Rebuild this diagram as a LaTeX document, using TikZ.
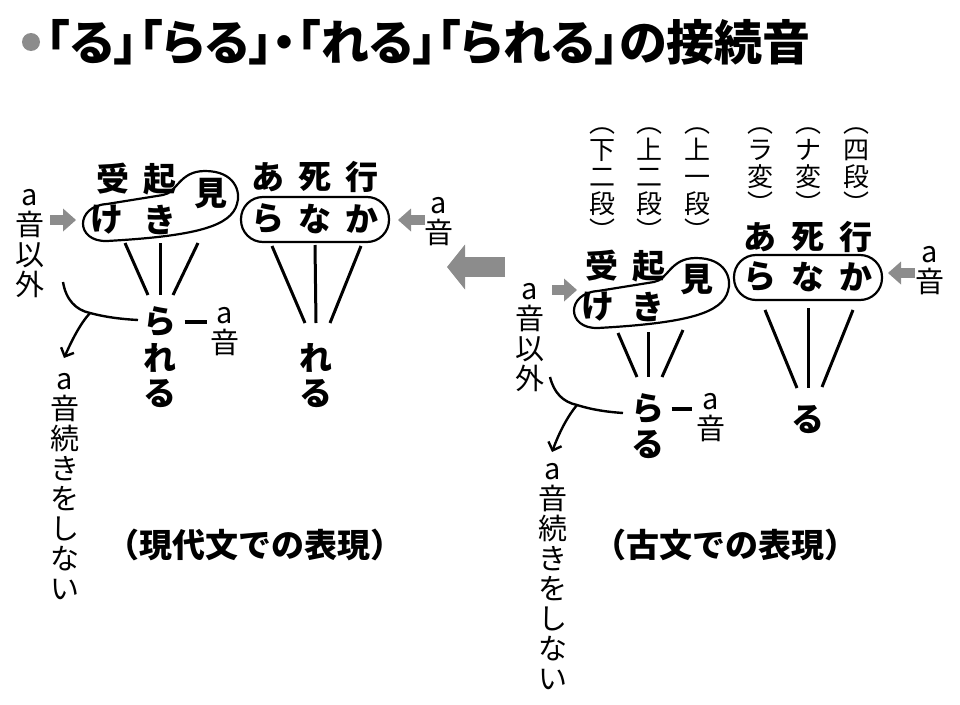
\documentclass[tikz,border=0pt]{standalone}
\usepackage{fontspec}
\usepackage{tikz}
\usetikzlibrary{arrows.meta,calc,positioning}
\newfontfamily\jpfont{Noto Sans CJK JP}
\newfontfamily\jptitle[RawFeature=+palt]{Noto Sans CJK JP}
\definecolor{arrowgray}{RGB}{140,140,140}
\tikzstyle{kana} = [font=\jpfont\bfseries\fontsize{33}{33}\selectfont, inner sep=0pt]
\tikzstyle{tate} = [font=\jpfont\fontsize{29}{30}\selectfont, inner sep=0pt, align=center, anchor=north]
\tikzstyle{katsuyo} = [font=\jpfont\fontsize{26}{27}\selectfont, inner sep=0pt, align=center, anchor=north]
\tikzstyle{caption} = [font=\jpfont\bfseries\fontsize{33}{33}\selectfont, inner sep=0pt]
\tikzstyle{fan} = [draw, line width=3pt]
\tikzstyle{loopline} = [draw, line width=2.2pt]
\tikzstyle{curveline} = [draw, line width=2.4pt]
\tikzstyle{dashline} = [draw, line width=3.5pt]
\tikzstyle{grayarrow} = [draw=arrowgray, line width=10pt, -{Triangle[length=13pt,width=23pt,line width=0pt]}]
\tikzstyle{bigarrow} = [draw=arrowgray, line width=20pt, -{Triangle[length=18pt,width=45pt,line width=0pt]}]
\tikzstyle{barb} = [-{Straight Barb[length=7pt,width=14pt]}]

\begin{document}
\begin{tikzpicture}[x=1pt, y=-1pt, node distance=47pt]
    \useasboundingbox (0,0) rectangle (960,704);
    % title
    \node[circle, fill=arrowgray, minimum size=18pt, inner sep=0pt] (bullet) at (31,42) {};
    \node[anchor=west, inner sep=0pt, font=\jptitle\bfseries\fontsize{48}{48}\selectfont] (title) at (46,42) {「る」「らる」・「れる」「られる」の接続音};

    % modern
    \node[kana] (ukeL) at (113,179) {受};
    \node[kana, right of=ukeL] (okiL) {起};
    \node[kana] (miL) at (211,194) {見};
    \node[kana] (keL) at (107,220) {け};
    \node[kana] (kiL) at (160,220) {き};
    \node[kana] (aL) at (268,177) {あ};
    \node[kana, right of=aL] (shiL) {死};
    \node[kana, right of=shiL] (ikuL) {行};
    \node[kana, below of=aL, node distance=42pt] (raL) {ら};
    \node[kana, right of=raL] (naL) {な};
    \node[kana, right of=naL] (kaL) {か};
    \node[kana] (rareru1) at (160,322) {ら};
    \node[kana, below of=rareru1, node distance=36pt] (rareru2) {れ};
    \node[kana, below of=rareru2, node distance=36pt] (rareru3) {る};
    \node[kana] (reru1) at (316,358) {れ};
    \node[kana, below of=reru1, node distance=36pt] (reru2) {る};
    \node[tate] (igaiL) at (30,189) {a\\音\\以\\外};
    \node[tate] (aonL) at (439,197) {a\\音};
    \node[tate] (aon2L) at (225,307) {a\\音};
    \node[tate] (tsuzukiL) at (65,373) {a\\音\\続\\き\\を\\し\\な\\い};
    \node[caption] (capL) at (255,545) {（現代文での表現）};
    \begin{scope}[shift={(keL)}]
        \draw[loopline] (0,21) .. controls (-32,22) and (-32,-14) .. (0,-16) -- (56,-25) .. controls (70,-27) and (72,-49) .. (98,-49) .. controls (128,-49) and (134,-28) .. (130,-16) .. controls (124,6) and (90,16) .. (0,21) -- cycle;
    \end{scope}
    \draw[loopline, rounded corners=22pt] ($(naL)+(-74,-22)$) rectangle ($(naL)+(74,23)$);
    \draw[fan] ($(rareru1)+(-35,-79)$) -- ($(rareru1)+(-12,-27)$);
    \draw[fan] ($(rareru1)+(0,-79)$) -- ($(rareru1)+(0,-27)$);
    \draw[fan] ($(rareru1)+(38,-79)$) -- ($(rareru1)+(13,-27)$);
    \draw[fan] ($(naL)+(-43,27)$) -- ($(reru1)+(-11,-35)$);
    \draw[fan] ($(naL)+(0,26)$) -- ($(reru1)+(0,-35)$);
    \draw[fan] ($(naL)+(46,27)$) -- ($(reru1)+(14,-35)$);
    \draw[dashline, shorten <=8pt, shorten >=3pt] (rareru1.east) -- (rareru1.east -| aon2L.west);
    \draw[grayarrow] ($(keL)+(-57,0)$) -- ($(keL)+(-31,0)$);
    \draw[grayarrow] ($(kaL)+(63,1)$) -- ($(kaL)+(36,1)$);
    \coordinate (forkL) at ($(rareru1)+(-70,-9)$);
    \draw[curveline] ($(rareru1)+(-97,-40)$) .. controls ($(rareru1)+(-94,-22)$) and ($(rareru1)+(-84,-12)$) .. (forkL) .. controls ($(rareru1)+(-55,-5)$) and ($(rareru1)+(-40,-3)$) .. ($(rareru1)+(-22,-2)$);
    \draw[curveline, barb] (forkL) .. controls ($(rareru1)+(-80,2)$) and ($(rareru1)+(-88,18)$) .. ($(rareru1)+(-96,36)$);

    % big arrow
    \coordinate (bigFrom) at (505,267);
    \coordinate (bigTo) at (447,267);
    \draw[bigarrow] (bigFrom) -- (bigTo);

    % classical
    \coordinate (catTop) at (0,127);
    \node[kana] (ukeR) at (602,266) {受};
    \node[kana, right of=ukeR] (okiR) {起};
    \node[kana] (miR) at (697,280) {見};
    \node[kana] (keR) at (598,307) {け};
    \node[kana] (kiR) at (648,307) {き};
    \node[kana] (aR) at (760,237) {あ};
    \node[kana, right of=aR, node distance=48pt] (shiR) {死};
    \node[kana, right of=shiR, node distance=48pt] (ikuR) {行};
    \node[kana, below of=aR, node distance=40pt] (raR) {ら};
    \node[kana, right of=raR, node distance=48pt] (naR) {な};
    \node[kana, right of=naR, node distance=48pt] (kaR) {か};
    \node[katsuyo] (shimoniR) at (ukeR |- catTop) {︵\\下\\二\\段\\︶};
    \node[katsuyo] (kaminiR) at (okiR |- catTop) {︵\\上\\二\\段\\︶};
    \node[katsuyo] (kamiichiR) at (miR |- catTop) {︵\\上\\一\\段\\︶};
    \node[katsuyo] (rahenR) at (aR |- catTop) {︵\\ラ\\変\\︶};
    \node[katsuyo] (nahenR) at (shiR |- catTop) {︵\\ナ\\変\\︶};
    \node[katsuyo] (yodanR) at (ikuR |- catTop) {︵\\四\\段\\︶};
    \node[kana] (raru1) at (648,409) {ら};
    \node[kana, below of=raru1, node distance=36pt] (raru2) {る};
    \node[kana] (ru1) at (808,420) {る};
    \node[tate] (igaiR) at (530,283) {a\\音\\以\\外};
    \node[tate] (aonR) at (930,246) {a\\音};
    \node[tate] (aon2R) at (711,393) {a\\音};
    \node[tate] (tsuzukiR) at (553,463) {a\\音\\続\\き\\を\\し\\な\\い};
    \node[caption] (capR) at (725,545) {（古文での表現）};
    \begin{scope}[shift={(keR)}]
        \draw[loopline] (0,21) .. controls (-32,22) and (-32,-14) .. (0,-16) -- (56,-25) .. controls (70,-27) and (72,-49) .. (98,-49) .. controls (128,-49) and (134,-28) .. (130,-16) .. controls (124,6) and (90,16) .. (0,21) -- cycle;
    \end{scope}
    \draw[loopline, rounded corners=22pt] ($(naR)+(-74,-22)$) rectangle ($(naR)+(74,23)$);
    \draw[fan] ($(raru1)+(-30,-76)$) -- ($(raru1)+(-11,-32)$);
    \draw[fan] ($(raru1)+(0,-77)$) -- ($(raru1)+(0,-32)$);
    \draw[fan] ($(raru1)+(35,-79)$) -- ($(raru1)+(14,-32)$);
    \draw[fan] ($(naR)+(-43,33)$) -- ($(ru1)+(-11,-32)$);
    \draw[fan] ($(naR)+(0,31)$) -- ($(ru1)+(0,-32)$);
    \draw[fan] ($(naR)+(45,33)$) -- ($(ru1)+(14,-33)$);
    \draw[dashline, shorten <=7pt, shorten >=4pt] (raru1.east) -- (raru1.east -| aon2R.west);
    \draw[grayarrow] ($(keR)+(-46,-17)$) -- ($(keR)+(-21,-17)$);
    \draw[grayarrow] ($(kaR)+(59,-4)$) -- ($(kaR)+(32,-4)$);
    \coordinate (forkR) at ($(raru1)+(-71,-4)$);
    \draw[curveline] ($(raru1)+(-98,-32)$) .. controls ($(raru1)+(-94,-16)$) and ($(raru1)+(-85,-7)$) .. (forkR) .. controls ($(raru1)+(-55,1)$) and ($(raru1)+(-40,3)$) .. ($(raru1)+(-25,4)$);
    \draw[curveline, barb] (forkR) .. controls ($(raru1)+(-81,8)$) and ($(raru1)+(-89,24)$) .. ($(raru1)+(-96,43)$);
\end{tikzpicture}
\end{document}
